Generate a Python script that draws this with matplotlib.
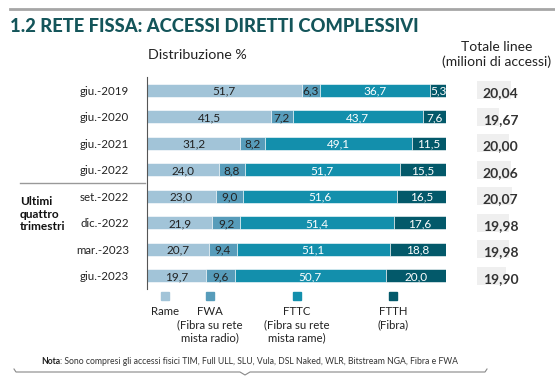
import matplotlib.pyplot as plt
from matplotlib.patches import Rectangle
from matplotlib.lines import Line2D

# data
periods = ["giu.-2019", "giu.-2020", "giu.-2021", "giu.-2022",
           "set.-2022", "dic.-2022", "mar.-2023", "giu.-2023"]
rame = [51.7, 41.5, 31.2, 24.0, 23.0, 21.9, 20.7, 19.7]
fwa = [6.3, 7.2, 8.2, 8.8, 9.0, 9.2, 9.4, 9.6]
fttc = [36.7, 43.7, 49.1, 51.7, 51.6, 51.4, 51.1, 50.7]
ftth = [5.3, 7.6, 11.5, 15.5, 16.5, 17.6, 18.8, 20.0]
totals = [20.04, 19.67, 20.00, 20.06, 20.07, 19.98, 19.98, 19.90]

series_names = ["Rame", "FWA\n(Fibra su rete\nmista radio)",
                "FTTC\n(Fibra su rete\nmista rame)", "FTTH\n(Fibra)"]
colors = ["#a2c4d8", "#579cba", "#138fac", "#03596a"]
text_colors = ["#222222", "#222222", "white", "white"]

plt.rcParams["font.family"] = ["Lato", "DejaVu Sans"]

W, H = 555, 379
fig = plt.figure(figsize=(W / 100, H / 100), dpi=100)


def fx(x):
    return x / W


def fy(y):
    return 1 - y / H


# top rule and title
fig.add_artist(Line2D([fx(10), fx(555)], [fy(9), fy(9)], color="#a6a6a6", lw=2))
fig.text(fx(10), fy(27), "1.2 RETE FISSA: ACCESSI DIRETTI COMPLESSIVI",
         fontsize=13.2, fontweight="black", color="#14555a", va="center")
fig.text(fx(197), fy(55), "Distribuzione %", fontsize=10.3, ha="center", va="center", color="#222")
fig.text(fx(497), fy(47), "Totale linee", fontsize=10, ha="center", va="center", color="#222")
fig.text(fx(497), fy(62), "(milioni di accessi)", fontsize=10, ha="center", va="center", color="#222")

# main stacked bars
ax = fig.add_axes([fx(147), fy(289), fx(446 - 147), (289 - 77) / H])
n = len(periods)
ypos = list(range(n))
left = [0.0] * n
for vals, col, tcol in zip([rame, fwa, fttc, ftth], colors, text_colors):
    ax.barh(ypos, vals, left=left, height=0.5, color=col, edgecolor="white", linewidth=0.4)
    for i, v in enumerate(vals):
        ax.text(left[i] + v / 2, i + 0.04, f"{v:.1f}".replace(".", ","),
                ha="center", va="center", fontsize=8.5, color=tcol)
    left = [l + v for l, v in zip(left, vals)]
ax.set_xlim(0, 100)
ax.set_ylim(n - 0.5, -0.5)
ax.set_yticks(ypos)
ax.set_yticklabels(periods, fontsize=8.3, color="#222")
ax.tick_params(axis="y", length=0, pad=13)
ax.set_xticks([])
for s in ["top", "right", "bottom"]:
    ax.spines[s].set_visible(False)
ax.spines["left"].set_color("#555555")
ax.spines["left"].set_linewidth(0.8)

# totals as light grey bars
ax2 = fig.add_axes([fx(476.7), fy(289), fx(50), (289 - 77) / H])
ax2.barh(ypos, [t - 18.94 for t in totals], left=18.94, height=0.68,
         color="#efefef")
for i, t in enumerate(totals):
    ax2.text(19.14, i + 0.12, f"{t:.2f}".replace(".", ","), ha="left", va="center",
             fontsize=10, fontweight="bold", color="#333333")
ax2.set_xlim(18.94, 18.94 + 50 / 30.8)
ax2.set_ylim(n - 0.5, -0.5)
ax2.axis("off")

# left annotations
fig.add_artist(Line2D([fx(20), fx(145)], [fy(183), fy(183)], color="#999999", lw=1))
fig.text(fx(20), fy(214), "Ultimi\nquattro\ntrimestri", fontsize=8.6, fontweight="bold",
         va="center", ha="left", color="#111", linespacing=1.15)

# legend
leg_x = [165, 210, 297, 393]
for x, col, name in zip(leg_x, colors, series_names):
    fig.add_artist(Rectangle((fx(x - 4), fy(300)), fx(8), 8 / H, color=col))
    fig.text(fx(x), fy(306), name, ha="center", va="top", fontsize=8.2,
             color="#222", linespacing=1.25)

# note: bold "Nota" followed directly by the rest
nota = fig.text(fx(41), fy(361), "Nota", fontsize=6.2, fontweight="bold", va="center", color="#222")
fig.canvas.draw()
bb = nota.get_window_extent()
fig.text(bb.x1 / W, fy(361), ": Sono compresi gli accessi fisici TIM, Full ULL, SLU, Vula, DSL Naked, "
         "WLR, Bitstream NGA, Fibra e FWA", fontsize=6.2, va="center", ha="left", color="#333")

# brace
fig.add_artist(Line2D([fx(14), fx(16), fx(240), fx(245), fx(250), fx(485), fx(487)],
                      [fy(369), fy(372), fy(372), fy(375), fy(372), fy(372), fy(369)],
                      color="#888888", lw=0.8))

fig.savefig("out.png", dpi=100)
